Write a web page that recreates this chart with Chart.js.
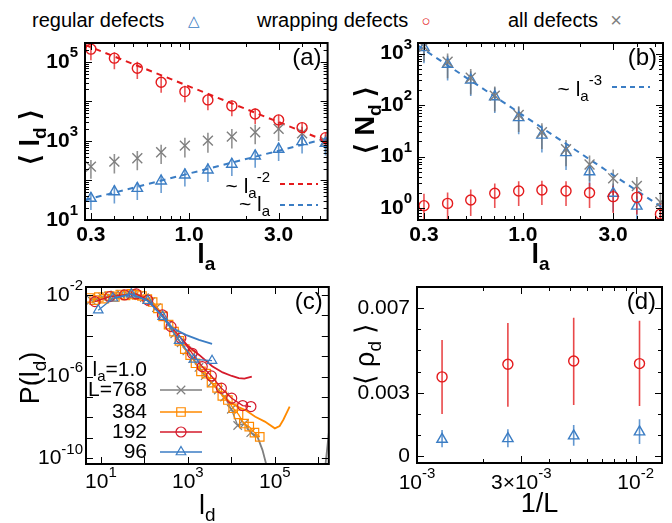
<!DOCTYPE html>
<html>
<head>
<meta charset="utf-8">
<script src="https://cdn.jsdelivr.net/npm/chart.js@4.4.0/dist/chart.umd.min.js"></script>
<style>
  body { margin: 0; width: 672px; height: 523px; background: #fff; position: relative; overflow: hidden;
         font-family: "Liberation Sans", Arial, Helvetica, sans-serif; }
  canvas { position: absolute; }
  .key { position: absolute; top: 10px; font-size: 20px; line-height: 20px; color: #000; white-space: nowrap; }
  .sym { position: absolute; top: 20px; transform: translate(-50%, -50%); line-height: 1; }
</style>
</head>
<body>
<div class="key" style="left:32px">regular defects</div>
<div class="sym" style="left:194px;color:#3b7dc4;font-size:15px">△</div>
<div class="key" style="left:257px">wrapping defects</div>
<div class="sym" style="left:426px;color:#e41a1c;font-size:15px">○</div>
<div class="key" style="left:508px">all defects</div>
<div class="sym" style="left:616px;color:#7f7f7f;font-size:20px">×</div>

<canvas id="panelA" width="336" height="246" style="left:0;top:28px"></canvas>
<canvas id="panelB" width="336" height="246" style="left:336px;top:28px"></canvas>
<canvas id="panelC" width="336" height="249" style="left:0;top:274px"></canvas>
<canvas id="panelD" width="336" height="249" style="left:336px;top:274px"></canvas>

<script>
// ---- data ----
// (a),(b): active length l_a
const la = [0.3, 0.4, 0.53, 0.71, 0.95, 1.26, 1.69, 2.25, 3.0, 4.0, 5.33];

// (a) <l_d>
const ldWrap   = [2.1e5, 1.24e5, 6.9e4, 3.06e4, 1.77e4, 1.09e4, 7.7e3, 4.8e3, 3.4e3, 2.17e3, 1.21e3];
const ldWrapHi = [2.9e5, 1.75e5, 1.0e5, 4.3e4, 2.5e4, 1.5e4, 1.05e4, 6.6e3, 4.6e3, 2.9e3, 1.6e3];
const ldWrapLo = [1.1e5, 6.5e4, 3.7e4, 1.65e4, 9.5e3, 6.0e3, 4.2e3, 2.7e3, 1.9e3, 1.2e3, 680];
const ldAll    = [224, 300, 365, 518, 761, 1018, 1286, 1661, 2013, 1567, 960];
const ldAllHi  = [330, 470, 560, 800, 1200, 1600, 2000, 2600, 3000, 2300, 1400];
const ldAllLo  = [110, 150, 180, 260, 380, 500, 640, 830, 1000, 800, 480];
const ldReg    = [35.4, 52, 63, 97, 138, 184, 257, 417, 617, 960, 870];
const ldRegHi  = [50, 75, 90, 140, 200, 270, 370, 600, 900, 1400, 1250];
const ldRegLo  = [18, 26, 32, 48, 70, 92, 130, 210, 310, 480, 430];
// guide lines, end points
const fitX      = [0.279, 5.5];
const fitWrapY  = [2.7e5, 950];
const fitRegY   = [32, 1175];

// (b) <N_d>
const ndWrap   = [1.11, 1.23, 1.43, 1.93, 2.14, 2.24, 2.14, 1.98, 1.66, 1.61, 0.76];
const ndWrapHi = [1.9, 2.0, 2.3, 3.0, 3.3, 3.4, 3.3, 3.1, 2.7, 2.6, 1.3];
const ndWrapLo = [0.45, 0.55, 0.7, 1.0, 1.1, 1.15, 1.1, 1.0, 0.8, 0.75, 0.3];
const ndReg    = [1300, 617, 305, 145, 57, 26, 11.9, 5.07, 1.93, 1.09, null];
const ndRegHi  = [1900, 900, 450, 220, 90, 40, 18, 7.6, 3.0, 1.7, null];
const ndRegLo  = [650, 300, 150, 70, 27, 12, 5.5, 2.3, 0.85, 0.45, null];
const ndAll    = [1350, 693, 338, 152, 64, 29.5, 13.8, 7.0, 3.77, 2.67, 1.29];
const ndAllHi  = [1900, 1000, 500, 230, 95, 44, 21, 10.5, 5.6, 4.0, 2.0];
const ndAllLo  = [700, 330, 160, 75, 30, 14, 6.5, 3.3, 1.8, 1.3, 0.6];
const fitNdY   = [1420, 1.0];

// (c) P(l_d), l_a = 1.0, binned points and raw tails
const cX768 = [6, 8, 11, 15, 21, 29, 40, 55, 75, 100, 140, 190, 260, 360, 500, 700, 950, 1300, 1800, 2500, 3500, 5000, 7000, 10000, 14000, 20000, 28000];
const cY768 = [5.6e-3, 6.3e-3, 7.6e-3, 8.9e-3, 1.0e-2, 1.07e-2, 1.12e-2, 1.07e-2, 9.3e-3, 7.4e-3, 4.7e-3, 2.4e-3, 1.0e-3, 3.5e-4, 1.26e-4, 4.5e-5, 1.8e-5, 7.6e-6, 2.8e-6, 1.12e-6, 5e-7, 2.2e-7, 1e-7, 2.5e-8, 4e-9, 5e-9, 1.8e-9];
const tailX768 = [28000, 40000, 52000, 62000, 75000];
const tailY768 = [1.8e-9, 1.1e-9, 2.5e-10, 6e-11, 1e-11];
const edgeX768 = [1.35e6, 1.9e6];
const edgeY768 = [1e-11, 1e-8];

const cX384 = [5.5, 7, 9, 12, 16, 21, 28, 37, 50, 66, 88, 117, 155, 205, 270, 360, 480, 640, 850, 1130, 1500, 2000, 2650, 3500, 4700, 6200, 8300, 11000, 14600, 19400, 25800, 34000, 45000];
const cY384 = [7.1e-3, 5.6e-3, 7.9e-3, 6.6e-3, 8.9e-3, 7.9e-3, 1.05e-2, 9.5e-3, 1.12e-2, 1.0e-2, 8.9e-3, 6.3e-3, 4.5e-3, 2.2e-3, 8.9e-4, 3.5e-4, 1.6e-4, 5.6e-5, 2.2e-5, 1.12e-5, 4.5e-6, 1.8e-6, 1.4e-6, 5e-7, 2.8e-7, 1.12e-7, 7.1e-8, 2.8e-8, 1.4e-8, 5e-9, 3.5e-9, 1.8e-9, 1.12e-9];
const tailX384 = [6200, 10000, 14600, 20900, 35500, 58900, 100000, 129000, 158000, 219000];
const tailY384 = [1.12e-7, 5e-8, 3.2e-8, 2.3e-8, 1.07e-8, 6.2e-9, 2.9e-9, 3.8e-9, 7.9e-9, 3.4e-8];

const cX192 = [7.3, 16, 35, 65, 120, 260, 410, 690, 1260, 2140, 3470, 5900, 10200, 18200, 28200];
const cY192 = [4.7e-3, 8.3e-3, 1.0e-2, 1.12e-2, 5.6e-3, 1.05e-3, 2.8e-4, 7.6e-5, 1.38e-5, 3.1e-6, 1.07e-6, 2.7e-7, 8.7e-8, 3.8e-8, 3.4e-8];
const tailX192 = [690, 1000, 1820, 3630, 6310, 10230, 14790, 19950, 29510];
const tailY192 = [7.6e-5, 3.2e-5, 1.15e-5, 3.2e-6, 1.6e-6, 1.07e-6, 8.3e-7, 7.9e-7, 1.0e-6];

const cX96 = [8.7, 19, 50, 120, 263, 630, 1380, 3600];
const cY96 = [1.8e-3, 6.9e-3, 1.1e-2, 5.2e-3, 8.7e-4, 5.8e-5, 7e-6, 6e-6];
const tailX96 = [20, 50, 120, 263, 450, 900, 1800, 3600];
const tailY96 = [6.9e-3, 1.1e-2, 5.2e-3, 8.7e-4, 2.3e-4, 1.1e-4, 6.3e-5, 4e-5];

// (d) <rho_d> vs 1/L  (L = 768, 384, 192, 96)
const invL     = [0.0013021, 0.0026042, 0.0052083, 0.0104167];
const rhoWrap   = [0.00375, 0.00435, 0.0045, 0.00438];
const rhoWrapHi = [0.0055, 0.0063, 0.00655, 0.0064];
const rhoWrapLo = [0.0020, 0.00234, 0.00242, 0.00237];
const rhoReg    = [0.0008, 0.00083, 0.00096, 0.00115];
const rhoRegHi  = [0.00124, 0.00128, 0.00148, 0.00175];
const rhoRegLo  = [0.00043, 0.00043, 0.00049, 0.00058];

// tick labels
const laTicks = [0.3, 1, 3];
const laLabels = ['0.3', '1.0', '3.0'];
const ldTicks = [10, 1000, 1e5];
const ldLabels = ['10^{1}', '10^{3}', '10^{5}'];
const ndTicks = [1, 10, 100, 1000];
const ndLabels = ['10^{0}', '10^{1}', '10^{2}', '10^{3}'];
const pTicks = [1e-10, 1e-6, 1e-2];
const pLabels = ['10^{-10}', '10^{-6}', '10^{-2}'];
const lTicks = [10, 1000, 1e5];
const lLabels = ['10^{1}', '10^{3}', '10^{5}'];
const rhoTicks = [0, 0.003, 0.007];
const rhoLabels = ['0', '0.003', '0.007'];
const invTicks = [0.001, 0.003, 0.01];
const invLabels = ['10^{-3}', '3×10^{-3}', '10^{-2}'];

// ---- colours ----
const BLUE = '#3b7dc4', RED = '#e41a1c', GRAY = '#7f7f7f', ORANGE = '#ff8a00', DRED = '#d51a2b';
const FONT = '"Liberation Sans", Arial, Helvetica, sans-serif';

// ---- helpers ----
const pts = (xs, ys) => xs.map((x, i) => ({ x, y: ys[i] })).filter(p => p.y != null);

function bars(xs, lo, hi) {
    const out = [];
    xs.forEach((x, i) => {
        if (lo[i] == null) return;
        out.push({ x, y: lo[i] }, { x, y: hi[i] }, { x, y: null });
    });
    return out;
}

function markers(data, color, style, r) {
    return {
        data, showLine: false, pointStyle: style, pointRadius: r,
        pointBorderColor: color, pointBackgroundColor: 'rgba(0,0,0,0)', pointBorderWidth: 1.4
    };
}
function errBars(data, color) {
    return { data, borderColor: color, borderWidth: 1.6, pointRadius: 0, spanGaps: false };
}
function dashed(data, color) {
    return { data, borderColor: color, borderWidth: 2, borderDash: [6, 5], pointRadius: 0 };
}
function linePts(data, color, style, r) {
    return {
        data, borderColor: color, borderWidth: 1.3, pointStyle: style, pointRadius: r,
        pointBorderColor: color, pointBackgroundColor: 'rgba(0,0,0,0)', pointBorderWidth: 1.2
    };
}
function rawLine(data, color) {
    return { data, borderColor: color, borderWidth: 1.8, pointRadius: 0, spanGaps: false };
}

// text with ^{..} superscripts and _{..} subscripts
function richText(ctx, str, x, y, size, align, weight) {
    const parts = [];
    const re = /([_^])\{([^}]*)\}/g;
    let last = 0, m;
    while ((m = re.exec(str))) {
        if (m.index > last) parts.push({ t: str.slice(last, m.index), k: 0 });
        parts.push({ t: m[2], k: m[1] === '^' ? 1 : -1 });
        last = re.lastIndex;
    }
    if (last < str.length) parts.push({ t: str.slice(last), k: 0 });
    const w = weight || 'normal';
    const fontFor = k => `${w} ${k ? Math.round(size * 0.72) : size}px ${FONT}`;
    let total = 0;
    parts.forEach(p => { ctx.font = fontFor(p.k); p.w = ctx.measureText(p.t).width; total += p.w; });
    let cx = align === 'right' ? x - total : align === 'center' ? x - total / 2 : x;
    ctx.textBaseline = 'middle';
    ctx.textAlign = 'left';
    parts.forEach(p => {
        ctx.font = fontFor(p.k);
        const dy = p.k === 1 ? -size * 0.42 : p.k === -1 ? size * 0.32 : 0;
        ctx.fillText(p.t, cx, y + dy);
        cx += p.w;
    });
}

function drawMark(ctx, style, x, y, r) {
    ctx.beginPath();
    if (style === 'circle') {
        ctx.arc(x, y, r, 0, Math.PI * 2);
    } else if (style === 'triangle') {
        ctx.moveTo(x, y - r);
        ctx.lineTo(x + r * 0.866, y + r / 2);
        ctx.lineTo(x - r * 0.866, y + r / 2);
        ctx.closePath();
    } else if (style === 'rect') {
        const s = r * Math.SQRT1_2;
        ctx.rect(x - s, y - s, 2 * s, 2 * s);
    } else if (style === 'crossRot') {
        const s = r * Math.SQRT1_2;
        ctx.moveTo(x - s, y - s); ctx.lineTo(x + s, y + s);
        ctx.moveTo(x - s, y + s); ctx.lineTo(x + s, y - s);
    }
    ctx.stroke();
}

// tick positions for a log axis: decades long, the rest short
function logTicks(min, max, ks, majors) {
    const out = [];
    for (let e = Math.floor(Math.log10(min)); e <= Math.ceil(Math.log10(max)); e++) {
        ks.forEach(k => {
            const v = k * Math.pow(10, e);
            if (v < min || v > max) return;
            const big = k === 1 || majors.some(mv => Math.abs(mv - v) < 1e-9 * mv);
            out.push([v, big ? 7 : 4]);
        });
    }
    return out;
}
const ALLK = [1, 2, 3, 4, 5, 6, 7, 8, 9];

// frame, inward ticks, tick labels, titles, keys
function makeFrame(cfg) {
    const wt = cfg.bold ? 'bold' : 'normal';
    return {
        id: 'frame',
        afterDatasetsDraw(chart) {
            const { ctx, chartArea: a, scales } = chart;
            const sx = scales.x, sy = scales.y;
            ctx.save();
            ctx.strokeStyle = '#000';
            ctx.fillStyle = '#000';
            ctx.lineWidth = 1;
            ctx.setLineDash([]);
            ctx.beginPath();
            cfg.xTicks.forEach(([v, len]) => {
                const px = Math.round(sx.getPixelForValue(v)) + 0.5;
                ctx.moveTo(px, a.bottom); ctx.lineTo(px, a.bottom - len);
                ctx.moveTo(px, a.top); ctx.lineTo(px, a.top + len);
            });
            cfg.yTicks.forEach(([v, len]) => {
                const py = Math.round(sy.getPixelForValue(v)) + 0.5;
                ctx.moveTo(a.left, py); ctx.lineTo(a.left + len, py);
                ctx.moveTo(a.right, py); ctx.lineTo(a.right - len, py);
            });
            ctx.stroke();
            ctx.lineWidth = 2;
            ctx.strokeRect(a.left, a.top, a.right - a.left, a.bottom - a.top);

            cfg.xMajor.forEach((v, i) =>
                richText(ctx, cfg.xLabels[i], sx.getPixelForValue(v), a.bottom + cfg.xGap, 21, 'center', wt));
            cfg.yMajor.forEach((v, i) =>
                richText(ctx, cfg.yLabels[i], a.left - cfg.yGap, sy.getPixelForValue(v), 21, 'right', wt));

            richText(ctx, cfg.xTitle, (a.left + a.right) / 2, a.bottom + cfg.xTitleGap, 27, 'center', wt);
            ctx.save();
            ctx.translate(cfg.yTitleX, cfg.yTitleY);
            ctx.rotate(-Math.PI / 2);
            richText(ctx, cfg.yTitle, 0, 0, 27, 'center', wt);
            ctx.restore();

            richText(ctx, cfg.tag, a.right - 6, a.top + 15, 24, 'right');

            (cfg.keys || []).forEach(k => {
                ctx.fillStyle = '#000';
                richText(ctx, k.text, k.tx, k.ty, 21, 'right');
                if (!k.color) return;
                ctx.strokeStyle = k.color;
                ctx.lineWidth = k.dash ? 2 : 1.3;
                ctx.setLineDash(k.dash || []);
                ctx.beginPath();
                ctx.moveTo(k.x1, k.ly); ctx.lineTo(k.x2, k.ly);
                ctx.stroke();
                ctx.setLineDash([]);
                if (k.mark) { ctx.lineWidth = 1.2; drawMark(ctx, k.mark, (k.x1 + k.x2) / 2, k.ly, k.r); }
            });
            ctx.restore();
        }
    };
}

function makeChart(id, datasets, xs, ys, padding, cfg) {
    return new Chart(document.getElementById(id), {
        type: 'line',
        data: { datasets },
        options: {
            responsive: false,
            animation: false,
            events: [],
            layout: { padding },
            plugins: { legend: { display: false }, tooltip: { enabled: false } },
            scales: { x: Object.assign({ display: false }, xs), y: Object.assign({ display: false }, ys) }
        },
        plugins: [makeFrame(cfg)]
    });
}

// ---- (a) ----
makeChart('panelA', [
    markers(pts(la, ldWrap), RED, 'circle', 5),
    markers(pts(la, ldReg), BLUE, 'triangle', 6),
    markers(pts(la, ldAll), GRAY, 'crossRot', 7),
    dashed(pts(fitX, fitWrapY), RED),
    dashed(pts(fitX, fitRegY), BLUE),
    errBars(bars(la, ldWrapLo, ldWrapHi), 'rgba(228,26,28,0.75)'),
    errBars(bars(la, ldRegLo, ldRegHi), 'rgba(59,125,196,0.75)'),
    errBars(bars(la, ldAllLo, ldAllHi), 'rgba(110,110,110,0.75)')
], { type: 'logarithmic', min: 0.279, max: 5.47 }, { type: 'logarithmic', min: 10, max: 3.0e5 },
{ left: 85, top: 15, right: 5, bottom: 54 }, {
    xTicks: logTicks(0.279, 5.47, ALLK, laTicks), yTicks: logTicks(10, 3e5, ALLK, ldTicks),
    xMajor: laTicks, xLabels: laLabels, yMajor: ldTicks, yLabels: ldLabels, bold: true,
    xGap: 15, yGap: 7, xTitle: 'l_{a}', xTitleGap: 36,
    yTitle: '⟨ l_{d} ⟩', yTitleX: 32, yTitleY: 109, tag: '(a)',
    keys: [
        { text: '~ l_{a}^{-2}', tx: 270, ty: 159, x1: 280, x2: 318, ly: 156, color: RED, dash: [5, 4] },
        { text: '~ l_{a}', tx: 270, ty: 177, x1: 280, x2: 318, ly: 177, color: BLUE, dash: [5, 4] }
    ]
});

// ---- (b) ----
makeChart('panelB', [
    markers(pts(la, ndWrap), RED, 'circle', 5),
    markers(pts(la, ndAll), GRAY, 'crossRot', 7),
    markers(pts(la, ndReg), BLUE, 'triangle', 6),
    dashed(pts(fitX, fitNdY), BLUE),
    errBars(bars(la, ndWrapLo, ndWrapHi), 'rgba(228,26,28,0.75)'),
    errBars(bars(la, ndAllLo, ndAllHi), 'rgba(110,110,110,0.75)'),
    errBars(bars(la, ndRegLo, ndRegHi), 'rgba(59,125,196,0.75)')
], { type: 'logarithmic', min: 0.279, max: 5.5 }, { type: 'logarithmic', min: 0.585, max: 1600 },
{ left: 82, top: 15, right: 9, bottom: 54 }, {
    xTicks: logTicks(0.279, 5.5, ALLK, laTicks), yTicks: logTicks(0.585, 1600, ALLK, ndTicks),
    xMajor: laTicks, xLabels: laLabels, yMajor: ndTicks, yLabels: ndLabels, bold: true,
    xGap: 15, yGap: 6, xTitle: 'l_{a}', xTitleGap: 36,
    yTitle: '⟨ N_{d} ⟩', yTitleX: 31, yTitleY: 92, tag: '(b)',
    keys: [
        { text: '~ l_{a}^{-3}', tx: 266, ty: 62, x1: 276, x2: 314, ly: 59, color: BLUE, dash: [5, 4] }
    ]
});

// ---- (c) ----
const joinGap = (a, b) => a.concat([{ x: b[0].x, y: null }], b);
makeChart('panelC', [
    linePts(pts(cX96, cY96), BLUE, 'triangle', 5.5),
    rawLine(pts(tailX96, tailY96), BLUE),
    linePts(pts(cX192, cY192), DRED, 'circle', 5),
    rawLine(pts(tailX192, tailY192), DRED),
    linePts(pts(cX384, cY384), ORANGE, 'rect', 6),
    rawLine(pts(tailX384, tailY384), ORANGE),
    linePts(pts(cX768, cY768), GRAY, 'crossRot', 6),
    rawLine(joinGap(pts(tailX768, tailY768), pts(edgeX768, edgeY768)), GRAY)
], { type: 'logarithmic', min: 4.55, max: 1.74e6 }, { type: 'logarithmic', min: 5.2e-11, max: 0.0245 },
{ left: 86, top: 13, right: 5, bottom: 59 }, {
    xTicks: logTicks(4.55, 1.74e6, [1], lTicks), yTicks: logTicks(5.2e-11, 0.0245, [1], pTicks),
    xMajor: lTicks, xLabels: lLabels, yMajor: pTicks, yLabels: pLabels,
    xGap: 18, yGap: 3, xTitle: 'l_{d}', xTitleGap: 43,
    yTitle: 'P(l_{d})', yTitleX: 32, yTitleY: 104, tag: '(c)',
    keys: [
        { text: 'l_{a}=1.0', tx: 147, ty: 96 },
        { text: 'L=768', tx: 147, ty: 116, x1: 160, x2: 202, ly: 116, color: GRAY, mark: 'crossRot', r: 6 },
        { text: '384', tx: 147, ty: 138, x1: 160, x2: 202, ly: 138, color: ORANGE, mark: 'rect', r: 6 },
        { text: '192', tx: 147, ty: 158, x1: 160, x2: 202, ly: 158, color: DRED, mark: 'circle', r: 5 },
        { text: '96', tx: 147, ty: 178, x1: 160, x2: 202, ly: 178, color: BLUE, mark: 'triangle', r: 5.5 }
    ]
});

// ---- (d) ----
makeChart('panelD', [
    markers(pts(invL, rhoWrap), RED, 'circle', 5),
    markers(pts(invL, rhoReg), BLUE, 'triangle', 6),
    errBars(bars(invL, rhoWrapLo, rhoWrapHi), 'rgba(228,26,28,0.8)'),
    errBars(bars(invL, rhoRegLo, rhoRegHi), 'rgba(59,125,196,0.8)')
], { type: 'logarithmic', min: 0.001, max: 0.0132 }, { type: 'linear', min: -0.00032, max: 0.008 },
{ left: 81, top: 13, right: 10, bottom: 60 }, {
    xTicks: logTicks(0.001, 0.0132, ALLK, invTicks),
    yTicks: [0, 0.001, 0.002, 0.003, 0.004, 0.005, 0.006, 0.007].map(v => [v, rhoTicks.includes(v) ? 7 : 4]),
    xMajor: invTicks, xLabels: invLabels, yMajor: rhoTicks, yLabels: rhoLabels,
    xGap: 20, yGap: 7, xTitle: '1/L', xTitleGap: 42,
    yTitle: '⟨ ρ_{d} ⟩', yTitleX: 31, yTitleY: 80, tag: '(d)'
});
</script>
</body>
</html>
